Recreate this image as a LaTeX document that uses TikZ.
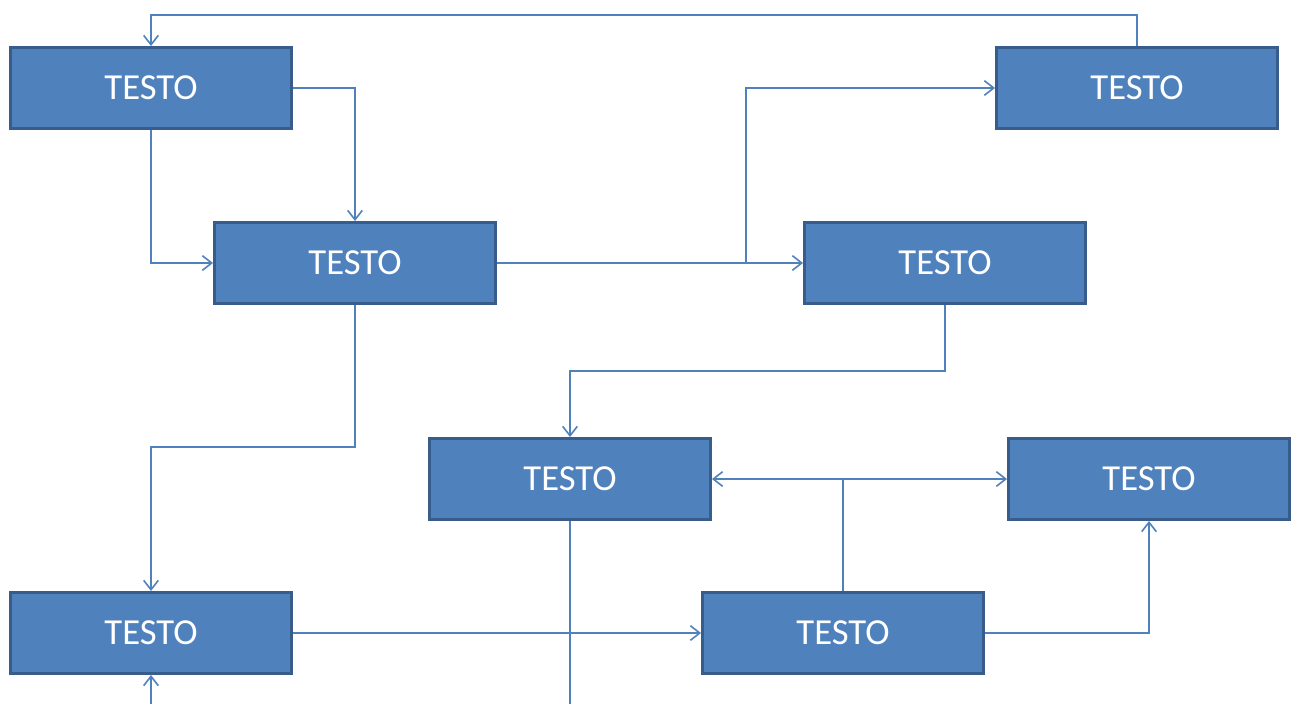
\documentclass[tikz,border=0pt]{standalone}
\usepackage{fontspec}
\setmainfont{Carlito}
\usetikzlibrary{arrows.meta, positioning, calc}
\definecolor{boxfill}{HTML}{4F81BD}
\definecolor{boxline}{HTML}{385D8A}
\tikzset{
    box/.style={draw=boxline, line width=2.6pt, fill=boxfill, text=white,
        minimum width=210.4pt, minimum height=60.4pt, inner sep=0pt,
        font=\fontsize{27.5}{33}\selectfont},
    link/.style={draw=boxfill, line width=1.5pt,
        -{Straight Barb[length=7pt, width=11pt, line width=1.2pt]}},
    plain/.style={draw=boxfill, line width=1.5pt},
}

\begin{document}
\begin{tikzpicture}[x=0.75pt, y=-0.75pt]
        \useasboundingbox (0,0) rectangle (1295,704);

        % Blocchi
        \node[box] (A) at (151,88)  {TESTO};
        \node[box] (B) at (355,263) {TESTO};
        \node[box] (C) at (1137,88) {TESTO};
        \node[box] (D) at (945,263) {TESTO};
        \node[box] (E) at (570,479) {TESTO};
        \node[box] (F) at (1149,479) {TESTO};
        \node[box] (G) at (151,633) {TESTO};
        \node[box] (H) at (843,633) {TESTO};

        % Punti di appoggio
        \coordinate (split) at (746,263);
        \coordinate (fork) at (H.north |- E.east);
        \coordinate (bottom) at (0,704);
        \coordinate (entry) at (G.south |- bottom);
        \coordinate (exit) at (E.south |- bottom);

        % Collegamenti
        \draw[link] (C.north) -- ++(0,-31) -| (A.north);
        \draw[link] (A.east) -| (B.north);
        \draw[link] (A.south) |- (B.west);
        \draw[link] (B.east) -- (D.west);
        \draw[link] (split) |- (C.west);
        \draw[link] (D.south) -- ++(0,66) -| (E.north);
        \draw[link] (B.south) -- ++(0,142) -| (G.north);
        \draw[link] (G.east) -- (H.west);
        \draw[plain] (E.south) -- (exit);
        \draw[plain] (H.north) -- (fork);
        \draw[link] (fork) -- (E.east);
        \draw[link] (fork) -- (F.west);
        \draw[link] (H.east) -| (F.south);
        \draw[link] (entry) -- (G.south);
    \end{tikzpicture}
\end{document}
